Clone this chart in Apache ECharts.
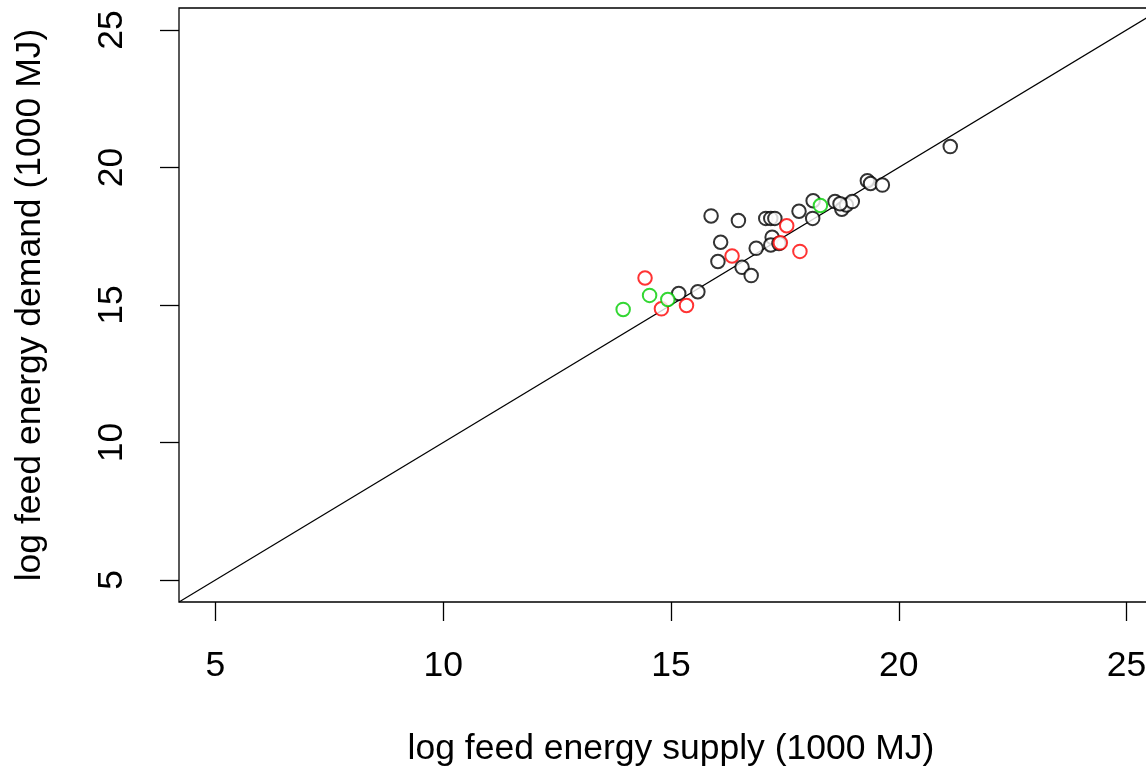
<!DOCTYPE html>
<html>
<head>
<meta charset="utf-8">
<script src="https://cdn.jsdelivr.net/npm/echarts@6/dist/echarts.min.js"></script>
<style>
html,body{margin:0;padding:0;background:#fff;}
#chart{width:1146px;height:768px;}
</style>
</head>
<body>
<div id="chart"></div>
<script>
// Axis settings
var axisMin = 4.2, axisMax = 25.8;
var tickValues = [5, 10, 15, 20, 25];
var xTitle = 'log feed energy supply (1000 MJ)';
var yTitle = 'log feed energy demand (1000 MJ)';

// Black points [supply, demand]
var blackPts = [
  [15.88, 18.24], [16.48, 18.07], [17.08, 18.15], [17.19, 18.15], [17.28, 18.15],
  [16.09, 17.28], [16.03, 16.58], [15.17, 15.42], [15.59, 15.48], [16.56, 16.37],
  [16.76, 16.07], [16.87, 17.06], [17.22, 17.46], [17.19, 17.18], [17.37, 17.24],
  [17.81, 18.41], [18.11, 18.15], [18.12, 18.79], [18.60, 18.76], [18.75, 18.48],
  [18.85, 18.64], [18.98, 18.76], [18.71, 18.68], [19.31, 19.52], [19.38, 19.42],
  [19.64, 19.36], [21.13, 20.76]
];
// Red points
var redPts = [
  [14.43, 15.98], [14.79, 14.86], [15.34, 14.98], [16.34, 16.78],
  [17.54, 17.88], [17.40, 17.26], [17.83, 16.95]
];
// Green points
var greenPts = [
  [13.95, 14.84], [14.53, 15.35], [14.93, 15.20], [18.28, 18.62]
];
// Reference line y = x
var refLine = [[axisMin, axisMin], [axisMax, axisMax]];

var chart = echarts.init(document.getElementById('chart'), null, {renderer: 'canvas'});
var font = 'Liberation Sans, Arial, sans-serif';

function pts(color, data) {
  return {
    type: 'scatter',
    data: data,
    symbol: 'emptyCircle',
    symbolSize: 13.5,
    itemStyle: {color: color, borderColor: color, borderWidth: 1.4},
    z: 3,
    animation: false
  };
}

chart.setOption({
  animation: false,
  backgroundColor: '#ffffff',
  grid: {
    left: 179, top: 8, width: 984, height: 594,
    outerBoundsMode: 'none', containLabel: false,
    show: true, borderColor: '#000', borderWidth: 1.3, backgroundColor: 'transparent'
  },
  xAxis: {
    type: 'value', min: axisMin, max: axisMax,
    axisLine: {show: false},
    axisTick: {show: true, length: 19, inside: false, customValues: tickValues, lineStyle: {color: '#000', width: 1.3}},
    axisLabel: {show: true, customValues: tickValues, margin: 46, fontSize: 35.5, color: '#000', fontFamily: font},
    splitLine: {show: false},
    name: xTitle, nameLocation: 'middle', nameGap: 129,
    nameTextStyle: {fontSize: 35.5, color: '#000', fontFamily: font}
  },
  yAxis: {
    type: 'value', min: axisMin, max: axisMax,
    axisLine: {show: false},
    axisTick: {show: true, length: 19, inside: false, customValues: tickValues, lineStyle: {color: '#000', width: 1.3}},
    axisLabel: {show: true, customValues: tickValues, rotate: 90, margin: 49, fontSize: 35.5, color: '#000', fontFamily: font},
    splitLine: {show: false},
    name: yTitle, nameLocation: 'middle', nameGap: 131, nameRotate: 90,
    nameTextStyle: {fontSize: 35.5, color: '#000', fontFamily: font}
  },
  series: [
    {
      type: 'line', data: refLine, showSymbol: false, symbol: 'none',
      lineStyle: {color: '#000', width: 1.2}, z: 2, clip: true, silent: true
    },
    pts('#000000', blackPts),
    pts('#ff0000', redPts),
    pts('#00cd00', greenPts)
  ]
});
</script>
</body>
</html>
